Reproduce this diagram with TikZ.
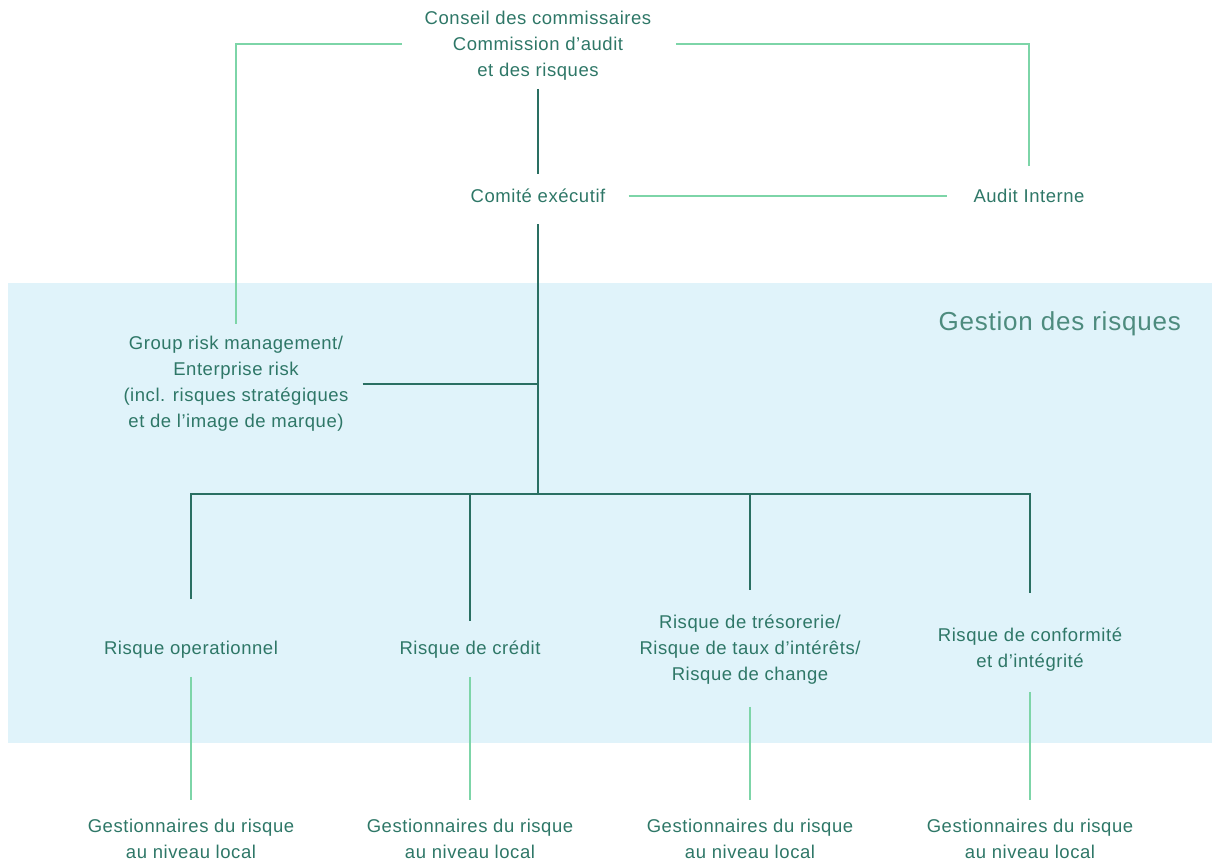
\documentclass[tikz,border=0pt]{standalone}
\usepackage{fontspec}
\setmainfont{Liberation Sans}[LetterSpace=3]
\definecolor{txtc}{HTML}{2E7767}
\definecolor{darkc}{HTML}{2A6F62}
\definecolor{lightc}{HTML}{7DD5A8}
\definecolor{bgc}{HTML}{E0F3FA}
\begin{document}
\begin{tikzpicture}[x=1pt,y=-1pt,
  lbl/.style={text=txtc, align=center, inner sep=0pt, font=\fontsize{18.5}{26}\selectfont},
  title/.style={text=txtc!85, inner sep=0pt, anchor=east, font=\fontsize{26}{30}\selectfont},
  darkline/.style={draw=darkc, line width=1.3pt},
  lightline/.style={draw=lightc, line width=1.3pt}]
\useasboundingbox (0,0) rectangle (1212,861);
\fill[bgc] (8,283) rectangle (1212,743);
\node[title] (gr) at (1181,324) {Gestion des risques};

\node[lbl] (top) at (538,46) {Conseil des commissaires\\Commission d’audit\\et des risques};
\node[lbl] (ce) at (538,196) {Comité exécutif};
\node[lbl] (ai) at (1029,196) {Audit Interne};
\node[lbl] (grm) at (236,384) {Group risk management/\\Enterprise risk\\(incl. risques stratégiques\\et de l’image de marque)};
\coordinate (hub) at (538,494);
\node[lbl] (ro) at (191,650) {Risque operationnel};
\node[lbl] (rc) at (470,650) {Risque de crédit};
\node[lbl] (tr) at (750,650) {Risque de trésorerie/\\Risque de taux d’intérêts/\\Risque de change};
\node[lbl] (cf) at (1030,650) {Risque de conformité\\et d’intégrité};
\node[lbl] (g1) at (191,839) {Gestionnaires du risque\\au niveau local};
\node[lbl] (g2) at (470,839) {Gestionnaires du risque\\au niveau local};
\node[lbl] (g3) at (750,839) {Gestionnaires du risque\\au niveau local};
\node[lbl] (g4) at (1030,839) {Gestionnaires du risque\\au niveau local};

% top connections
\draw[darkline, shorten <=8pt, shorten >=15pt] (top) -- (ce);
\draw[lightline, shorten >=12pt] ([xshift=-23pt,yshift=2pt]top.west) -| (grm.north);
\draw[lightline, shorten >=23pt] ([xshift=25pt,yshift=2pt]top.east) -| (ai.north);
\draw[lightline, shorten <=23pt, shorten >=26pt] (ce) -- (ai);
\draw[darkline, shorten <=21pt] (ce) -- (hub);
\draw[darkline, shorten <=14pt] (grm.east) -- (grm.east -| hub);

% bus
\draw[darkline, shorten <=42pt, shorten >=35pt] (ro) -- (ro |- hub) -- (cf |- hub) -- (cf);
\draw[darkline, shorten >=20pt] (rc |- hub) -- (rc);
\draw[darkline, shorten >=25pt] (tr |- hub) -- (tr);

% local lines
\draw[lightline, shorten <=18pt, shorten >=19pt] (ro) -- (g1);
\draw[lightline, shorten <=18pt, shorten >=19pt] (rc) -- (g2);
\draw[lightline, shorten <=22pt, shorten >=19pt] (tr) -- (g3);
\draw[lightline, shorten <=20pt, shorten >=19pt] (cf) -- (g4);
\end{tikzpicture}
\end{document}
